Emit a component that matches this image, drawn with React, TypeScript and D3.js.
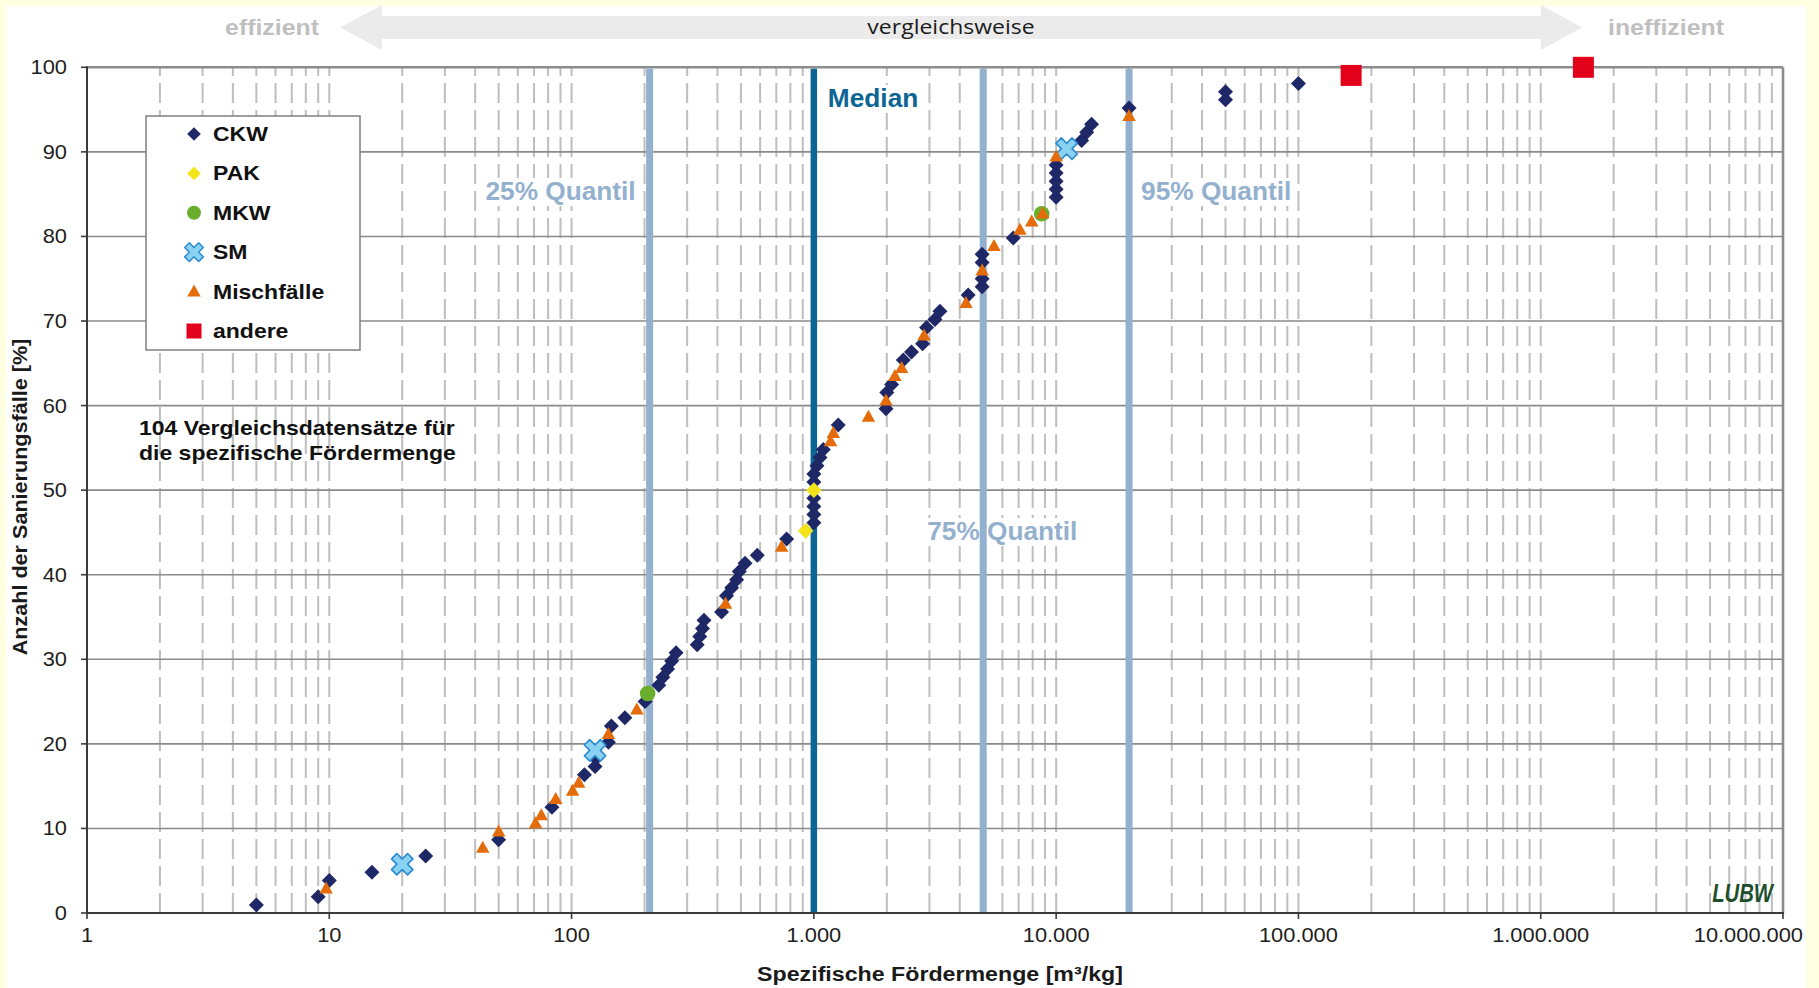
import React, { useEffect } from "react";
import * as d3 from "d3";

// ---------- data ----------
const xTickValues = [1, 10, 100, 1000, 10000, 100000, 1000000, 10000000];
const xTickLabels = ["1", "10", "100", "1.000", "10.000", "100.000", "1.000.000", "10.000.000"];
const yTickValues = [0, 10, 20, 30, 40, 50, 60, 70, 80, 90, 100];

const ckwX = [5, 9, 10, 15, 25, 50, 83, 113, 125, 126, 142, 146, 166, 201, 229, 238, 249, 259, 270,
  330, 338, 347, 352, 416, 436, 458, 480, 492, 520, 584, 772, 1000, 1000, 1000, 1000, 1000, 1000,
  1030, 1060, 1094, 1261, 1985, 2000, 2094, 2340, 2530, 2810, 2918, 3160, 3315, 4336, 4950, 4950,
  4950, 4950, 6654, 10000, 10000, 10000, 10000, 10000, 12740, 13370, 14000, 20000, 50000, 50000, 100000];
const ckwY = [0.96, 1.92, 3.85, 4.81, 6.73, 8.65, 12.5, 16.35, 17.31, 18.27, 20.19, 22.12, 23.08, 25.0,
  26.92, 27.88, 28.85, 29.81, 30.77, 31.73, 32.69, 33.65, 34.62, 35.58, 37.5, 38.46, 39.42, 40.38, 41.35,
  42.31, 44.23, 46.15, 47.12, 48.08, 49.04, 50.96, 51.92, 52.88, 53.85, 54.81, 57.69, 59.62, 61.54, 62.5,
  65.38, 66.35, 67.31, 69.23, 70.19, 71.15, 73.08, 74.04, 75.0, 76.92, 77.88, 79.81, 84.62, 85.58, 86.54,
  87.5, 88.46, 91.35, 92.31, 93.27, 95.19, 96.15, 97.12, 98.08];

const pakX = [925, 1000];
const pakY = [45.19, 50.0];

const mkwX = [206, 8720];
const mkwY = [25.96, 82.69];

const smX = [20, 125, 11050];
const smY = [5.77, 19.23, 90.38];

const mischX = [9.7, 43, 50, 71, 75, 86, 101, 107, 142, 186, 432, 736, 1172, 1203, 1680, 1985, 2160,
  2303, 2847, 4245, 4950, 5540, 7090, 7930, 8800, 10000, 20000];
const mischY = [2.88, 7.69, 9.62, 10.58, 11.54, 13.46, 14.42, 15.38, 21.15, 24.04, 36.54, 43.27, 55.77,
  56.73, 58.65, 60.58, 63.46, 64.42, 68.27, 72.12, 75.96, 78.85, 80.77, 81.73, 82.69, 89.42, 94.23];

const andereX = [165000, 1500000];
const andereY = [99.04, 100.0];

const quantileValues = [210, 1000, 5000, 20000];
const quantileNames = ["25% Quantil", "Median", "75% Quantil", "95% Quantil"];

const legendLabels = ["CKW", "PAK", "MKW", "SM", "Mischfälle", "andere"];

// ---------- styling ----------
const FONT = "'Liberation Sans', Arial, Helvetica, sans-serif";
const C_CKW = "#1F2867";
const C_PAK = "#F2E31A";
const C_MKW = "#69AE2C";
const C_SM_FILL = "#8AD2F2";
const C_SM_STROKE = "#2B8BD2";
const C_MISCH = "#E46C0A";
const C_ANDERE = "#E2001A";
const C_Q = "#93B0CE";
const C_MED = "#0D6593";

const W = 1819;
const H = 988;

const x = d3.scaleLog().domain([1, 1e7]).range([87, 1783]);
const y = d3.scaleLinear().domain([0, 100]).range([913, 67.3]);

type TProps = {
  x: number; y: number; size: number; weight?: string | number; fill?: string;
  anchor?: "start" | "middle" | "end"; sx?: number; rotate?: number; family?: string;
  italic?: boolean; children: React.ReactNode;
};
function T({ x: tx, y: ty, size, weight = "normal", fill = "#1a1a1a", anchor = "start", sx = 1.15, rotate, family = FONT, italic, children }: TProps) {
  const tr = `translate(${tx},${ty})${rotate ? ` rotate(${rotate})` : ""} scale(${sx},1)`;
  return (
    <text transform={tr} fontSize={size} fontWeight={weight} fill={fill} textAnchor={anchor}
      fontFamily={family} fontStyle={italic ? "italic" : "normal"}>{children}</text>
  );
}

const diamondPath = (cx: number, cy: number, r: number) =>
  `M${cx},${cy - r}L${cx + r},${cy}L${cx},${cy + r}L${cx - r},${cy}Z`;
const trianglePath = (cx: number, cy: number, w: number, h: number) =>
  `M${cx},${cy - h * 0.6}L${cx + w / 2},${cy + h * 0.4}L${cx - w / 2},${cy + h * 0.4}Z`;
const crossPath = d3.symbol().type(d3.symbolCross).size(270)() as string;

function Marker({ kind, cx, cy, legend }: { kind: string; cx: number; cy: number; legend?: boolean }) {
  switch (kind) {
    case "CKW":
      return <path d={diamondPath(cx, cy, legend ? 6.8 : 7.5)} fill={C_CKW} />;
    case "PAK":
      return <path d={diamondPath(cx, cy, legend ? 6.8 : 7.8)} fill={C_PAK} />;
    case "MKW":
      return <circle cx={cx} cy={cy} r={legend ? 7 : 7.8} fill={C_MKW} />;
    case "SM":
      return (
        <path d={crossPath} transform={`translate(${cx},${cy}) rotate(45) scale(${legend ? 0.9 : 1.03})`}
          fill={C_SM_FILL} stroke={C_SM_STROKE} strokeWidth={1.6} strokeLinejoin="round" />
      );
    case "Mischfälle":
      return <path d={trianglePath(cx, cy, 13.5, 12)} fill={C_MISCH} />;
    case "andere":
      return legend
        ? <rect x={cx - 7.5} y={cy - 7.5} width={15} height={15} fill={C_ANDERE} />
        : <rect x={cx - 10.5} y={cy - 10.5} width={21} height={21} fill={C_ANDERE} />;
    default:
      return null;
  }
}

const series = [
  { kind: "CKW", xs: ckwX, ys: ckwY },
  { kind: "PAK", xs: pakX, ys: pakY },
  { kind: "MKW", xs: mkwX, ys: mkwY },
  { kind: "SM", xs: smX, ys: smY },
  { kind: "Mischfälle", xs: mischX, ys: mischY },
  { kind: "andere", xs: andereX, ys: andereY },
];

export default function App() {
  useEffect(() => {
    document.body.style.margin = "0";
    document.body.style.overflow = "hidden";
  }, []);

  const [x0, x1] = x.range();
  const [yb, yt] = y.range();

  // minor/major vertical gridlines (2..10 in each decade)
  const vGrid: number[] = [];
  for (let d = 1; d < 1e7; d *= 10) {
    for (let k = 2; k <= 10; k++) {
      const v = k * d;
      if (v < 1e7) vGrid.push(v);
    }
  }

  const qx = quantileValues.map((v) => x(v));

  return (
    <svg width={W} height={H} style={{ position: "absolute", left: 0, top: 0, display: "block" }}>
      <rect x={0} y={0} width={W} height={H} fill="#FFFFE1" />
      <rect x={6} y={6} width={1800} height={H - 6} fill="#FFFFFF" />

      {/* top arrow */}
      <polygon
        points={`340,27.5 382,5 382,16 1541,16 1541,5 1582,27.5 1541,50 1541,39 382,39 382,50`}
        fill="#EBEBEB" />
      <T x={272} y={35} size={22} weight="bold" fill="#BFBFBF" anchor="middle" sx={1.13}>effizient</T>
      <T x={1666} y={35} size={22} weight="bold" fill="#BFBFBF" anchor="middle" sx={1.13}>ineffizient</T>
      <T x={951} y={34} size={20} fill="#1a1a1a" anchor="middle" sx={1.15} family="'Open Sans', 'Noto Sans', sans-serif">vergleichsweise</T>

      {/* vertical dashed grid */}
      {vGrid.map((v) => (
        <line key={"vg" + v} x1={x(v)} x2={x(v)} y1={yb} y2={yt} stroke="#BEBEBE" strokeWidth={2}
          strokeDasharray="20 7" />
      ))}
      {/* horizontal grid */}
      {yTickValues.filter((v) => v > 0 && v < 100).map((v) => (
        <line key={"hg" + v} x1={x0} x2={x1} y1={y(v)} y2={y(v)} stroke="#8A8A8A" strokeWidth={1.6} />
      ))}

      {/* frame */}
      <line x1={x0} x2={x1} y1={yt} y2={yt} stroke="#8C8C8C" strokeWidth={2.6} />
      <line x1={x1} x2={x1} y1={yt} y2={yb} stroke="#8C8C8C" strokeWidth={2.6} />

      {/* quantile label boxes + labels */}
      {(() => {
        const labs = [
          { i: 0, tx: qx[0] - 14, ty: 200, anchor: "end" as const, w: 152, fill: C_Q },
          { i: 1, tx: qx[1] + 14, ty: 107, anchor: "start" as const, w: 92, fill: C_MED },
          { i: 2, tx: qx[2] - 56, ty: 540, anchor: "start" as const, w: 154, fill: C_Q },
          { i: 3, tx: qx[3] + 12, ty: 200, anchor: "start" as const, w: 152, fill: C_Q },
        ];
        return labs.map((l) => {
          const left = l.anchor === "end" ? l.tx - l.w : l.tx;
          return (
            <g key={"ql" + l.i}>
              <rect x={left - 2} y={l.ty - 22} width={l.w + 4} height={28} fill="#FFFFFF" />
              <T x={l.tx} y={l.ty} size={25} weight="bold" fill={l.fill} anchor={l.anchor} sx={1.05}>
                {quantileNames[l.i]}
              </T>
            </g>
          );
        });
      })()}

      {/* quantile lines */}
      {qx.map((px, i) => (
        <line key={"q" + i} x1={px} x2={px} y1={yt + 1.5} y2={yb} stroke={i === 1 ? C_MED : C_Q}
          strokeWidth={i === 1 ? 6.5 : 7} />
      ))}

      {/* axes */}
      <line x1={x0} x2={x1 + 1} y1={yb} y2={yb} stroke="#3A3A3A" strokeWidth={2} />
      <line x1={x0} x2={x0} y1={yt - 1} y2={yb} stroke="#3A3A3A" strokeWidth={2} />
      {xTickValues.map((v) => (
        <line key={"xt" + v} x1={x(v)} x2={x(v)} y1={yb} y2={yb + 6} stroke="#3A3A3A" strokeWidth={1.6} />
      ))}
      {yTickValues.map((v) => (
        <line key={"yt" + v} x1={x0 - 6} x2={x0} y1={y(v)} y2={y(v)} stroke="#3A3A3A" strokeWidth={1.6} />
      ))}
      {xTickValues.map((v, i) => {
        const last = i === xTickValues.length - 1;
        return (
          <T key={"xl" + v} x={last ? 1803 : x(v)} y={942} size={19.5} anchor={last ? "end" : "middle"} sx={1.12} fill="#1e1e1e">
            {xTickLabels[i]}
          </T>
        );
      })}
      {yTickValues.map((v) => (
        <T key={"yl" + v} x={67} y={y(v) + 7} size={19.5} anchor="end" sx={1.12} fill="#1e1e1e">
          {String(v)}
        </T>
      ))}
      <T x={940} y={981} size={20} weight="bold" anchor="middle" sx={1.16}>Spezifische Fördermenge [m³/kg]</T>
      <T x={27} y={497} size={20} weight="bold" anchor="middle" sx={1.08} rotate={-90}>Anzahl der Sanierungsfälle [%]</T>

      {/* legend */}
      <rect x={146} y={116} width={214} height={234} fill="#FFFFFF" stroke="#7F7F7F" strokeWidth={1.5} />
      {legendLabels.map((lab, i) => {
        const cy = 134 + i * 39.4;
        return (
          <g key={"lg" + lab}>
            <Marker kind={lab} cx={194} cy={cy} legend />
            <T x={213} y={cy + 7} size={20} weight="bold" sx={1.15} fill="#111">{lab}</T>
          </g>
        );
      })}

      {/* annotation */}
      <T x={139} y={435} size={19.5} weight="bold" sx={1.18} fill="#111">104 Vergleichsdatensätze für</T>
      <T x={139} y={460} size={19.5} weight="bold" sx={1.18} fill="#111">die spezifische Fördermenge</T>

      {/* data points */}
      {series.map((s) => (
        <g key={"s" + s.kind}>
          {s.xs.map((v, j) => (
            <Marker key={j} kind={s.kind} cx={x(v)} cy={y(s.ys[j])} />
          ))}
        </g>
      ))}

      {/* logo */}
      <T x={1773} y={902} size={26} weight="bold" italic anchor="end" sx={0.78} fill="#1D4F2C">LUBW</T>
    </svg>
  );
}
